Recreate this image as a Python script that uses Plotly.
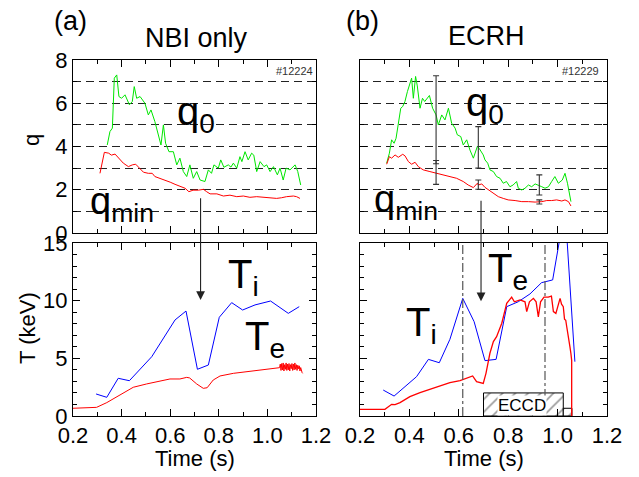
import plotly.graph_objects as go

FONT = "Liberation Sans, Arial, sans-serif"
W, H = 639, 477

# ---------------- data: (a) NBI only, shot #12224 ----------------
a_q0_t = [0.341, 0.352, 0.362, 0.370, 0.380, 0.389, 0.400, 0.414, 0.432, 0.444,
          0.452, 0.462, 0.476, 0.496, 0.510, 0.521, 0.537, 0.551, 0.562, 0.572,
          0.581, 0.595, 0.613, 0.627, 0.640, 0.654, 0.668, 0.681, 0.695, 0.709,
          0.723, 0.743, 0.757, 0.770, 0.780, 0.798, 0.808, 0.821, 0.839, 0.850,
          0.860, 0.874, 0.887, 0.895, 0.908, 0.921, 0.935, 0.944, 0.956, 0.970,
          0.986, 0.997, 1.011, 1.025, 1.041, 1.052, 1.065, 1.077, 1.093, 1.114,
          1.125, 1.137]
a_q0 = [4.07, 4.69, 4.85, 7.16, 7.31, 6.31, 6.23, 6.39, 5.93, 6.08,
        6.77, 6.23, 6.31, 6.00, 5.46, 5.69, 5.15, 4.54, 4.07, 5.00,
        4.15, 3.76, 3.76, 3.15, 3.46, 2.84, 2.61, 3.15, 2.53, 2.84,
        2.45, 2.38, 2.92, 2.76, 3.15, 3.00, 3.38, 3.04, 3.15, 3.05,
        3.23, 3.00, 3.53, 3.30, 3.76, 3.38, 3.69, 3.60, 2.84, 3.30,
        3.07, 3.15, 2.84, 3.07, 2.69, 3.00, 2.45, 3.00, 2.92, 3.15,
        2.84, 2.22]

a_qmin_t = [0.311, 0.321, 0.329, 0.347, 0.358, 0.373, 0.389, 0.407, 0.428, 0.444,
            0.458, 0.476, 0.490, 0.510, 0.526, 0.537, 0.558, 0.579, 0.600, 0.620,
            0.641, 0.661, 0.677, 0.694, 0.716, 0.737, 0.750, 0.764, 0.792, 0.819,
            0.846, 0.874, 0.901, 0.928, 0.956, 0.983, 1.011, 1.038, 1.058, 1.079,
            1.107, 1.120, 1.134]
a_qmin = [2.76, 3.30, 3.73, 3.69, 3.60, 3.65, 3.46, 3.23, 3.07, 3.15,
          3.18, 2.96, 2.81, 2.76, 2.76, 2.61, 2.53, 2.45, 2.35, 2.25,
          2.14, 2.07, 1.91, 1.98, 1.98, 2.02, 1.91, 1.81, 1.81, 1.71,
          1.75, 1.68, 1.71, 1.65, 1.68, 1.65, 1.65, 1.60, 1.63, 1.68,
          1.71, 1.68, 1.60]

a_Ti_t = [0.295, 0.339, 0.386, 0.432, 0.524, 0.572, 0.620, 0.665, 0.712, 0.757,
          0.802, 0.853, 0.898, 0.949, 1.013, 1.086, 1.131]
a_Ti = [1.91, 1.62, 3.27, 3.06, 5.14, 6.74, 8.33, 9.10, 4.05, 4.42,
        8.56, 9.83, 9.19, 9.63, 9.97, 8.90, 9.48]

a_Te_t = [0.200, 0.297, 0.339, 0.386, 0.448, 0.503, 0.551, 0.599, 0.640, 0.668,
          0.680, 0.709, 0.736, 0.752, 0.777, 0.805, 0.860, 0.942, 1.024, 1.050,
          1.053, 1.056, 1.059, 1.062, 1.065, 1.068, 1.071, 1.074, 1.077, 1.080,
          1.083, 1.086, 1.089, 1.092, 1.095, 1.098, 1.101, 1.104, 1.107, 1.110,
          1.113, 1.116, 1.119, 1.122, 1.125, 1.128, 1.131, 1.134, 1.137, 1.140,
          1.143, 1.145]
a_Te = [0.67, 0.75, 1.16, 1.73, 2.49, 2.78, 2.98, 3.21, 3.21, 3.35,
        3.30, 2.78, 2.40, 2.45, 3.12, 3.47, 3.70, 3.90, 4.08, 4.19,
        4.50, 3.95, 4.55, 4.00, 4.60, 3.90, 4.45, 4.05, 4.60, 3.95,
        4.50, 4.00, 4.55, 3.90, 4.45, 4.10, 4.55, 3.95, 4.50, 4.00,
        4.60, 4.05, 4.45, 3.95, 4.40, 4.10, 4.35, 3.90, 4.20, 3.85,
        3.75, 3.70]

# ---------------- data: (b) ECRH, shot #12229 ----------------
b_q0_t = [0.308, 0.319, 0.328, 0.338, 0.346, 0.355, 0.365, 0.373, 0.382, 0.392,
          0.402, 0.409, 0.416, 0.425, 0.432, 0.443, 0.453, 0.462, 0.481, 0.494,
          0.508, 0.517, 0.531, 0.544, 0.558, 0.571, 0.585, 0.594, 0.608, 0.618,
          0.632, 0.645, 0.659, 0.675, 0.682, 0.693, 0.699, 0.706, 0.717, 0.726,
          0.740, 0.753, 0.767, 0.780, 0.793, 0.807, 0.820, 0.834, 0.841, 0.855,
          0.868, 0.882, 0.895, 0.909, 0.922, 0.936, 0.949, 0.963, 0.976, 0.989,
          1.003, 1.019, 1.030, 1.040, 1.054]
b_q0 = [3.23, 3.69, 4.31, 4.15, 4.38, 5.00, 5.77, 5.85, 6.08, 6.54,
        6.85, 7.16, 6.23, 7.24, 6.80, 5.77, 6.23, 6.08, 6.36, 5.77,
        5.46, 5.00, 5.46, 5.23, 5.77, 5.08, 4.85, 4.54, 4.46, 4.07,
        4.31, 3.84, 3.46, 4.00, 3.92, 3.69, 3.61, 3.38, 3.23, 2.92,
        2.84, 2.61, 2.53, 2.30, 2.38, 2.14, 2.22, 2.38, 2.07, 1.99,
        2.07, 2.22, 2.14, 2.27, 2.22, 2.14, 2.07, 2.14, 2.38, 2.61,
        2.30, 2.45, 2.76, 2.30, 1.45]

b_qmin_t = [0.308, 0.319, 0.328, 0.342, 0.355, 0.373, 0.382, 0.396, 0.409, 0.423,
            0.436, 0.456, 0.483, 0.510, 0.537, 0.564, 0.591, 0.618, 0.638, 0.659,
            0.675, 0.679, 0.693, 0.706, 0.720, 0.740, 0.760, 0.780, 0.800, 0.828,
            0.855, 0.882, 0.909, 0.936, 0.956, 0.976, 0.996, 1.017, 1.030, 1.044,
            1.054]
b_qmin = [3.18, 3.53, 3.46, 3.61, 3.50, 3.64, 3.57, 3.30, 3.18, 3.27,
          3.07, 2.92, 2.84, 2.76, 2.69, 2.61, 2.53, 2.38, 2.22, 2.10,
          2.30, 2.22, 2.27, 2.11, 1.99, 1.84, 1.68, 1.60, 1.53, 1.50,
          1.45, 1.45, 1.43, 1.45, 1.50, 1.50, 1.53, 1.48, 1.53, 1.45,
          1.25]

# error bars on q (time, low, high)
err_t = [0.508, 0.679, 0.926]
err_q0_lo = [3.20, 3.00, 1.76]
err_q0_hi = [7.27, 4.92, 2.69]
err_qmin_lo = [2.25, 2.02, 1.34]
err_qmin_hi = [3.35, 2.45, 1.53]

b_Ti_t = [0.294, 0.338, 0.429, 0.477, 0.521, 0.564, 0.616, 0.662, 0.706, 0.751,
          0.794, 0.841, 0.888, 0.935, 0.980, 1.030, 1.070]
b_Ti = [2.25, 1.73, 3.41, 4.91, 4.62, 6.65, 10.2, 8.18, 4.80, 4.91,
        9.48, 9.91, 10.58, 11.56, 11.80, 18.0, 4.71]

b_Te_t = [0.200, 0.301, 0.328, 0.342, 0.362, 0.402, 0.443, 0.483, 0.524, 0.564,
          0.605, 0.632, 0.656, 0.672, 0.699, 0.710, 0.726, 0.740, 0.753, 0.774,
          0.794, 0.814, 0.825, 0.848, 0.868, 0.875, 0.886, 0.902, 0.913, 0.922,
          0.931, 0.945, 0.962, 0.975, 0.983, 0.993, 1.010, 1.016, 1.023, 1.028,
          1.033, 1.037, 1.041, 1.045, 1.050, 1.054, 1.057, 1.057]
b_Te = [0.58, 0.58, 1.01, 0.98, 1.16, 1.68, 2.02, 2.31, 2.60, 2.89,
        3.06, 3.27, 3.47, 2.98, 2.83, 3.70, 5.44, 6.45, 6.88, 8.04,
        9.77, 10.30, 9.90, 10.06, 9.90, 9.05, 9.90, 10.20, 9.90, 8.60,
        9.90, 10.30, 10.30, 10.40, 9.05, 8.90, 10.20, 9.70, 9.48, 8.40,
        8.30, 7.74, 7.30, 6.60, 6.00, 5.40, 4.80, 0.00]

# ECCD window (s) and indicator levels (keV units of the plot)
eccd_t = [0.700, 1.023, 1.058]
eccd_level = [2.0, 0.67]
# times of the vertical dashed markers in (b)
marker_t = [0.616, 0.949]
# arrows: (time, q at tail in upper panel, T at tip in lower panel)
arrow_a = (0.725, 1.68, 10.06)
arrow_b = (0.690, 1.56, 9.95)

# ---------------- layout geometry ----------------
xdomL = [73 / W, 316 / W]
xdomR = [360 / W, 607 / W]
ydomT = [1 - 233 / H, 1 - 60 / H]
ydomB = [1 - 416 / H, 1 - 243 / H]
QR = [0, 8]
TR = [0, 15]

GREEN = "#00e600"
RED = "#ff0000"
BLUE = "#0000ff"

fig = go.Figure()


def line(t, v, color, xa, ya, width=1.0):
    fig.add_trace(go.Scatter(x=t, y=v, mode="lines", xaxis=xa, yaxis=ya,
                             line=dict(color=color, width=width),
                             showlegend=False, hoverinfo="skip"))


line(a_q0_t, a_q0, GREEN, "x", "y")
line(a_qmin_t, a_qmin, RED, "x", "y")
line(b_q0_t, b_q0, GREEN, "x2", "y2")
line(b_qmin_t, b_qmin, RED, "x2", "y2")
line(a_Ti_t, a_Ti, BLUE, "x3", "y3")
line(a_Te_t, a_Te, RED, "x3", "y3")

# ECCD hatched boxes
for i in range(len(eccd_level)):
    t0, t1, lv = eccd_t[i], eccd_t[i + 1], eccd_level[i]
    fig.add_trace(go.Scatter(x=[t0, t1, t1, t0, t0], y=[0, 0, lv, lv, 0],
                             mode="lines", fill="toself", xaxis="x4", yaxis="y4",
                             line=dict(color="black", width=1),
                             fillcolor="white",
                             fillpattern=dict(shape="/", fgcolor="#333333",
                                              bgcolor="white", size=9, solidity=0.18),
                             showlegend=False, hoverinfo="skip"))

line(b_Ti_t, b_Ti, BLUE, "x4", "y4")
line(b_Te_t, b_Te, RED, "x4", "y4", width=1.3)

# error bars
for lo, hi in ((err_q0_lo, err_q0_hi), (err_qmin_lo, err_qmin_hi)):
    mid = [(a + b) / 2 for a, b in zip(lo, hi)]
    half = [(b - a) / 2 for a, b in zip(lo, hi)]
    fig.add_trace(go.Scatter(x=err_t, y=mid, mode="markers", xaxis="x2", yaxis="y2",
                             marker=dict(size=1, opacity=0),
                             error_y=dict(type="data", array=half, symmetric=True,
                                          color="#333333", thickness=1.1, width=3),
                             showlegend=False, hoverinfo="skip"))

tickfont = dict(family=FONT, size=22, color="black")


def xaxis(dom, anchor, labels):
    return dict(domain=dom, anchor=anchor, range=[0.2, 1.2], tick0=0.2, dtick=0.2,
                ticks="inside", ticklen=7, tickcolor="black", showline=True,
                linecolor="black", linewidth=1, mirror="ticks", showgrid=False,
                zeroline=False, tickformat=".1f", showticklabels=labels,
                tickfont=tickfont, automargin=False,
                minor=dict(dtick=0.1, ticks="inside", ticklen=4, tickcolor="black"))


def yaxis(dom, anchor, rng, dt, labels, grid):
    d = dict(domain=dom, anchor=anchor, range=rng, tick0=0, dtick=dt,
             ticks="inside", ticklen=7, tickcolor="black", showline=True,
             linecolor="black", linewidth=1, mirror="ticks", zeroline=False,
             showticklabels=labels, tickfont=tickfont, showgrid=grid,
             automargin=False,
             minor=dict(dtick=1, ticks="inside", ticklen=4, tickcolor="black",
                        showgrid=grid))
    if grid:
        d.update(gridcolor="#222222", gridwidth=1, griddash="8px,5px")
        d["minor"].update(gridcolor="#222222", gridwidth=1, griddash="8px,5px")
    return d


fig.update_layout(
    width=W, height=H, margin=dict(l=0, r=0, t=0, b=0, pad=0, autoexpand=False),
    paper_bgcolor="white", plot_bgcolor="white",
    font=dict(family=FONT, color="black"),
    xaxis=xaxis(xdomL, "y", False),
    yaxis=yaxis(ydomT, "x", QR, 2, True, True),
    xaxis2=xaxis(xdomR, "y2", False),
    yaxis2=yaxis(ydomT, "x2", QR, 2, False, True),
    xaxis3=xaxis(xdomL, "y3", True),
    yaxis3=yaxis(ydomB, "x3", TR, 5, True, False),
    xaxis4=xaxis(xdomR, "y4", True),
    yaxis4=yaxis(ydomB, "x4", TR, 5, False, False),
)

# vertical dash-dot markers in (b)
for t in marker_t:
    fig.add_shape(type="line", xref="x4", yref="y4", x0=t, x1=t, y0=TR[0], y1=TR[1],
                  line=dict(color="#555555", width=1.2, dash="dashdot"))


def ypix_top(q):
    f = (q - QR[0]) / (QR[1] - QR[0])
    return H * (1 - (ydomT[0] + f * (ydomT[1] - ydomT[0])))


def ypix_bot(T):
    f = (T - TR[0]) / (TR[1] - TR[0])
    return H * (1 - (ydomB[0] + f * (ydomB[1] - ydomB[0])))


for (t, qs, Te_tip), xa, ya in ((arrow_a, "x3", "y3"), (arrow_b, "x4", "y4")):
    fig.add_annotation(x=t, y=Te_tip, xref=xa, yref=ya, text="", showarrow=True,
                       ax=0, ay=ypix_top(qs) - ypix_bot(Te_tip),
                       arrowhead=2, arrowsize=1.6, arrowwidth=1.1,
                       arrowcolor="#222222", standoff=0)


def txt(x, y, s, size, xanchor="center", yanchor="middle", angle=0, color="black", **kw):
    fig.add_annotation(x=x / W, y=1 - y / H, xref="paper", yref="paper", text=s,
                       showarrow=False, xanchor=xanchor, yanchor=yanchor,
                       textangle=angle, font=dict(family=FONT, size=size, color=color),
                       **kw)


txt(70, 21, "(a)", 27)
txt(196, 38, "NBI only", 27)
txt(362, 21, "(b)", 27)
txt(486, 36, "ECRH", 27)
txt(294, 71, "#12224", 11, color="#333333")
txt(580, 71, "#12229", 11, color="#333333")

txt(175, 114, "q<sub>0</sub>", 40, xanchor="left")
txt(88, 204, "q<sub>min</sub>", 38, xanchor="left")
txt(464, 105, "q<sub>0</sub>", 40, xanchor="left")
txt(372, 202, "q<sub>min</sub>", 38, xanchor="left")
txt(226, 277, "T<sub>i</sub>", 40, xanchor="left")
txt(243, 339, "T<sub>e</sub>", 40, xanchor="left")
txt(486, 271, "T<sub>e</sub>", 40, xanchor="left")
txt(404, 325, "T<sub>i</sub>", 40, xanchor="left")
txt(522, 405, "ECCD", 17, bgcolor="white", borderpad=0)

txt(31, 140, "q", 22, angle=-90)
txt(27, 328, "T (keV)", 22, angle=-90)
txt(195, 458, "Time (s)", 22)
txt(484, 458, "Time (s)", 22)

fig.write_html("out.html")
